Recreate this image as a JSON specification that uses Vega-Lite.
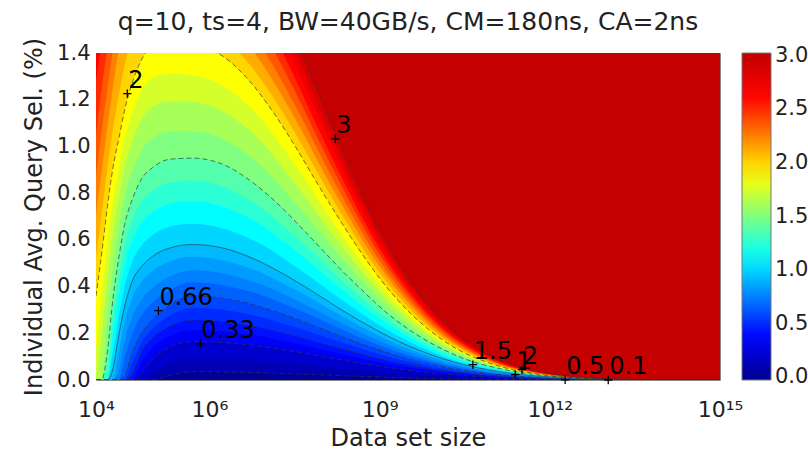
{
  "$schema": "https://vega.github.io/schema/vega-lite/v6.json",
  "autosize": {"type": "none"},
  "padding": {"left": 96, "top": 53, "right": 88, "bottom": 71},
  "width": 624,
  "height": 327,
  "title": {"text": "q=10, ts=4, BW=40GB/s, CM=180ns, CA=2ns", "font": "DejaVu Sans", "fontSize": 25, "fontWeight": "normal", "color": "#222", "offset": 2, "anchor": "middle", "frame": "group"},
  "config": {"font": "DejaVu Sans", "view": {"stroke": "#888", "strokeWidth": 1}},
  "datasets": {
    "bands": [
      {"c":0,"L":4,"s":0},{"c":0,"L":15,"s":0},
      {"c":0.1,"L":4,"s":0},{"c":0.1,"L":5,"s":0},{"c":0.1,"L":5.3,"s":0.02},{"c":0.1,"L":5.7,"s":0.036},{"c":0.1,"L":6.75,"s":0.032},{"c":0.1,"L":7.64,"s":0.025},{"c":0.1,"L":8.4,"s":0.018},{"c":0.1,"L":9.26,"s":0.011},{"c":0.1,"L":10.17,"s":0.005},{"c":0.1,"L":11.32,"s":0.002},{"c":0.1,"L":15,"s":0},
      {"c":0.2,"L":4,"s":0},{"c":0.2,"L":4.8,"s":0},{"c":0.2,"L":5,"s":0.034},{"c":0.2,"L":5.3,"s":0.072},{"c":0.2,"L":5.7,"s":0.092},{"c":0.2,"L":6.75,"s":0.083},{"c":0.2,"L":7.64,"s":0.064},{"c":0.2,"L":8.4,"s":0.046},{"c":0.2,"L":9.26,"s":0.028},{"c":0.2,"L":10.17,"s":0.014},{"c":0.2,"L":11.32,"s":0.005},{"c":0.2,"L":12.12,"s":0.002},{"c":0.2,"L":15,"s":0},
      {"c":0.33,"L":4,"s":0},{"c":0.33,"L":4.65,"s":0},{"c":0.33,"L":4.8,"s":0.03},{"c":0.33,"L":5,"s":0.09},{"c":0.33,"L":5.3,"s":0.14},{"c":0.33,"L":5.7,"s":0.165},{"c":0.33,"L":6.27,"s":0.16},{"c":0.33,"L":6.75,"s":0.149},{"c":0.33,"L":7.23,"s":0.132},{"c":0.33,"L":7.64,"s":0.116},{"c":0.33,"L":8.02,"s":0.099},{"c":0.33,"L":8.4,"s":0.083},{"c":0.33,"L":8.81,"s":0.066},{"c":0.33,"L":9.26,"s":0.05},{"c":0.33,"L":9.82,"s":0.033},{"c":0.33,"L":10.17,"s":0.025},{"c":0.33,"L":10.62,"s":0.017},{"c":0.33,"L":11.32,"s":0.008},{"c":0.33,"L":12.12,"s":0.003},{"c":0.33,"L":15,"s":0},
      {"c":0.42,"L":4,"s":0},{"c":0.42,"L":4.65,"s":0},{"c":0.42,"L":4.8,"s":0.078},{"c":0.42,"L":5,"s":0.138},{"c":0.42,"L":5.3,"s":0.188},{"c":0.42,"L":5.7,"s":0.214},{"c":0.42,"L":6.75,"s":0.193},{"c":0.42,"L":7.64,"s":0.15},{"c":0.42,"L":8.4,"s":0.107},{"c":0.42,"L":9.26,"s":0.064},{"c":0.42,"L":10.17,"s":0.032},{"c":0.42,"L":11.32,"s":0.011},{"c":0.42,"L":12.12,"s":0.004},{"c":0.42,"L":12.66,"s":0.002},{"c":0.42,"L":15,"s":0},
      {"c":0.5,"L":4,"s":0},{"c":0.5,"L":4.5,"s":0},{"c":0.5,"L":4.65,"s":0.03},{"c":0.5,"L":4.8,"s":0.12},{"c":0.5,"L":5,"s":0.18},{"c":0.5,"L":5.3,"s":0.23},{"c":0.5,"L":5.7,"s":0.257},{"c":0.5,"L":6.27,"s":0.249},{"c":0.5,"L":6.75,"s":0.231},{"c":0.5,"L":7.23,"s":0.206},{"c":0.5,"L":7.64,"s":0.18},{"c":0.5,"L":8.02,"s":0.154},{"c":0.5,"L":8.4,"s":0.129},{"c":0.5,"L":8.81,"s":0.103},{"c":0.5,"L":9.26,"s":0.077},{"c":0.5,"L":9.82,"s":0.051},{"c":0.5,"L":10.17,"s":0.039},{"c":0.5,"L":10.62,"s":0.026},{"c":0.5,"L":11.32,"s":0.013},{"c":0.5,"L":11.78,"s":0.008},{"c":0.5,"L":12.12,"s":0.005},{"c":0.5,"L":12.66,"s":0.003},{"c":0.5,"L":13.32,"s":0.001},{"c":0.5,"L":15,"s":0},
      {"c":0.58,"L":4,"s":0},{"c":0.58,"L":4.5,"s":0},{"c":0.58,"L":4.65,"s":0.078},{"c":0.58,"L":4.8,"s":0.16},{"c":0.58,"L":5,"s":0.22},{"c":0.58,"L":5.3,"s":0.275},{"c":0.58,"L":5.7,"s":0.309},{"c":0.58,"L":6.75,"s":0.278},{"c":0.58,"L":7.64,"s":0.216},{"c":0.58,"L":8.4,"s":0.155},{"c":0.58,"L":9.26,"s":0.093},{"c":0.58,"L":10.17,"s":0.046},{"c":0.58,"L":11.32,"s":0.015},{"c":0.58,"L":12.12,"s":0.006},{"c":0.58,"L":12.66,"s":0.003},{"c":0.58,"L":13.32,"s":0.001},{"c":0.58,"L":15,"s":0},
      {"c":0.66,"L":4,"s":0},{"c":0.66,"L":4.4,"s":0},{"c":0.66,"L":4.5,"s":0.015},{"c":0.66,"L":4.65,"s":0.125},{"c":0.66,"L":4.8,"s":0.2},{"c":0.66,"L":5,"s":0.26},{"c":0.66,"L":5.3,"s":0.32},{"c":0.66,"L":5.7,"s":0.36},{"c":0.66,"L":6.27,"s":0.349},{"c":0.66,"L":6.75,"s":0.324},{"c":0.66,"L":7.23,"s":0.288},{"c":0.66,"L":7.64,"s":0.252},{"c":0.66,"L":8.02,"s":0.216},{"c":0.66,"L":8.4,"s":0.18},{"c":0.66,"L":8.81,"s":0.144},{"c":0.66,"L":9.26,"s":0.108},{"c":0.66,"L":9.82,"s":0.072},{"c":0.66,"L":10.17,"s":0.054},{"c":0.66,"L":10.62,"s":0.036},{"c":0.66,"L":11.32,"s":0.018},{"c":0.66,"L":11.78,"s":0.011},{"c":0.66,"L":12.12,"s":0.007},{"c":0.66,"L":12.66,"s":0.004},{"c":0.66,"L":13.32,"s":0.001},{"c":0.66,"L":15,"s":0},
      {"c":0.75,"L":4,"s":0},{"c":0.75,"L":4.4,"s":0},{"c":0.75,"L":4.5,"s":0.093},{"c":0.75,"L":4.65,"s":0.206},{"c":0.75,"L":4.8,"s":0.276},{"c":0.75,"L":5,"s":0.332},{"c":0.75,"L":5.3,"s":0.385},{"c":0.75,"L":5.7,"s":0.418},{"c":0.75,"L":6.75,"s":0.376},{"c":0.75,"L":7.64,"s":0.293},{"c":0.75,"L":8.4,"s":0.209},{"c":0.75,"L":9.26,"s":0.125},{"c":0.75,"L":10.17,"s":0.063},{"c":0.75,"L":11.32,"s":0.021},{"c":0.75,"L":12.12,"s":0.008},{"c":0.75,"L":12.66,"s":0.004},{"c":0.75,"L":13.32,"s":0.002},{"c":0.75,"L":15,"s":0},
      {"c":0.83,"L":4,"s":0},{"c":0.83,"L":4.3,"s":0},{"c":0.83,"L":4.4,"s":0.036},{"c":0.83,"L":4.5,"s":0.163},{"c":0.83,"L":4.65,"s":0.278},{"c":0.83,"L":4.8,"s":0.343},{"c":0.83,"L":5,"s":0.395},{"c":0.83,"L":5.3,"s":0.443},{"c":0.83,"L":5.7,"s":0.47},{"c":0.83,"L":6.75,"s":0.423},{"c":0.83,"L":7.64,"s":0.329},{"c":0.83,"L":8.4,"s":0.235},{"c":0.83,"L":9.26,"s":0.141},{"c":0.83,"L":10.17,"s":0.071},{"c":0.83,"L":11.32,"s":0.024},{"c":0.83,"L":12.12,"s":0.009},{"c":0.83,"L":12.66,"s":0.005},{"c":0.83,"L":13.32,"s":0.002},{"c":0.83,"L":15,"s":0},
      {"c":0.92,"L":4,"s":0},{"c":0.92,"L":4.3,"s":0},{"c":0.92,"L":4.4,"s":0.118},{"c":0.92,"L":4.5,"s":0.241},{"c":0.92,"L":4.65,"s":0.358},{"c":0.92,"L":4.8,"s":0.418},{"c":0.92,"L":5,"s":0.467},{"c":0.92,"L":5.3,"s":0.507},{"c":0.92,"L":5.7,"s":0.528},{"c":0.92,"L":6.75,"s":0.475},{"c":0.92,"L":7.64,"s":0.37},{"c":0.92,"L":8.4,"s":0.264},{"c":0.92,"L":9.26,"s":0.158},{"c":0.92,"L":10.17,"s":0.079},{"c":0.92,"L":11.32,"s":0.026},{"c":0.92,"L":12.12,"s":0.011},{"c":0.92,"L":12.66,"s":0.005},{"c":0.92,"L":13.32,"s":0.002},{"c":0.92,"L":15,"s":0},
      {"c":1,"L":4,"s":0},{"c":1,"L":4.2,"s":0},{"c":1,"L":4.3,"s":0.05},{"c":1,"L":4.4,"s":0.19},{"c":1,"L":4.5,"s":0.31},{"c":1,"L":4.65,"s":0.43},{"c":1,"L":4.8,"s":0.485},{"c":1,"L":5,"s":0.53},{"c":1,"L":5.3,"s":0.565},{"c":1,"L":5.7,"s":0.58},{"c":1,"L":6.27,"s":0.563},{"c":1,"L":6.75,"s":0.522},{"c":1,"L":7.23,"s":0.464},{"c":1,"L":7.64,"s":0.406},{"c":1,"L":8.02,"s":0.348},{"c":1,"L":8.4,"s":0.29},{"c":1,"L":8.81,"s":0.232},{"c":1,"L":9.26,"s":0.174},{"c":1,"L":9.82,"s":0.116},{"c":1,"L":10.17,"s":0.087},{"c":1,"L":10.62,"s":0.058},{"c":1,"L":11.32,"s":0.029},{"c":1,"L":11.78,"s":0.017},{"c":1,"L":12.12,"s":0.012},{"c":1,"L":12.66,"s":0.006},{"c":1,"L":13.32,"s":0.002},{"c":1,"L":14.23,"s":0.001},{"c":1,"L":15,"s":0},
      {"c":1.12,"L":4,"s":0},{"c":1.12,"L":4.2,"s":0},{"c":1.12,"L":4.3,"s":0.122},{"c":1.12,"L":4.4,"s":0.269},{"c":1.12,"L":4.5,"s":0.394},{"c":1.12,"L":4.65,"s":0.514},{"c":1.12,"L":4.8,"s":0.575},{"c":1.12,"L":5,"s":0.621},{"c":1.12,"L":5.3,"s":0.656},{"c":1.12,"L":5.7,"s":0.669},{"c":1.12,"L":6.74,"s":0.602},{"c":1.12,"L":7.62,"s":0.468},{"c":1.12,"L":8.38,"s":0.335},{"c":1.12,"L":9.23,"s":0.201},{"c":1.12,"L":10.13,"s":0.1},{"c":1.12,"L":11.27,"s":0.033},{"c":1.12,"L":12.07,"s":0.013},{"c":1.12,"L":12.6,"s":0.007},{"c":1.12,"L":13.26,"s":0.003},{"c":1.12,"L":15,"s":0},
      {"c":1.25,"L":4,"s":0},{"c":1.25,"L":4.2,"s":0},{"c":1.25,"L":4.3,"s":0.2},{"c":1.25,"L":4.4,"s":0.355},{"c":1.25,"L":4.5,"s":0.485},{"c":1.25,"L":4.65,"s":0.605},{"c":1.25,"L":4.8,"s":0.673},{"c":1.25,"L":5,"s":0.72},{"c":1.25,"L":5.3,"s":0.755},{"c":1.25,"L":5.7,"s":0.765},{"c":1.25,"L":6.73,"s":0.689},{"c":1.25,"L":7.61,"s":0.536},{"c":1.25,"L":8.35,"s":0.383},{"c":1.25,"L":9.2,"s":0.23},{"c":1.25,"L":10.09,"s":0.115},{"c":1.25,"L":11.23,"s":0.038},{"c":1.25,"L":12.01,"s":0.015},{"c":1.25,"L":12.54,"s":0.008},{"c":1.25,"L":13.19,"s":0.003},{"c":1.25,"L":15,"s":0},
      {"c":1.37,"L":4,"s":0},{"c":1.37,"L":4.1,"s":0},{"c":1.37,"L":4.2,"s":0.046},{"c":1.37,"L":4.3,"s":0.272},{"c":1.37,"L":4.4,"s":0.434},{"c":1.37,"L":4.5,"s":0.569},{"c":1.37,"L":4.65,"s":0.689},{"c":1.37,"L":4.8,"s":0.763},{"c":1.37,"L":5,"s":0.811},{"c":1.37,"L":5.3,"s":0.846},{"c":1.37,"L":5.7,"s":0.854},{"c":1.37,"L":6.72,"s":0.769},{"c":1.37,"L":7.59,"s":0.598},{"c":1.37,"L":8.33,"s":0.427},{"c":1.37,"L":9.17,"s":0.256},{"c":1.37,"L":10.06,"s":0.128},{"c":1.37,"L":11.18,"s":0.043},{"c":1.37,"L":11.96,"s":0.017},{"c":1.37,"L":12.49,"s":0.009},{"c":1.37,"L":13.13,"s":0.003},{"c":1.37,"L":15,"s":0},
      {"c":1.5,"L":4,"s":0},{"c":1.5,"L":4.1,"s":0},{"c":1.5,"L":4.2,"s":0.12},{"c":1.5,"L":4.3,"s":0.35},{"c":1.5,"L":4.4,"s":0.52},{"c":1.5,"L":4.5,"s":0.66},{"c":1.5,"L":4.65,"s":0.78},{"c":1.5,"L":4.8,"s":0.86},{"c":1.5,"L":5,"s":0.91},{"c":1.5,"L":5.3,"s":0.945},{"c":1.5,"L":5.7,"s":0.95},{"c":1.5,"L":6.25,"s":0.922},{"c":1.5,"L":6.71,"s":0.855},{"c":1.5,"L":7.18,"s":0.76},{"c":1.5,"L":7.57,"s":0.665},{"c":1.5,"L":7.94,"s":0.57},{"c":1.5,"L":8.31,"s":0.475},{"c":1.5,"L":8.71,"s":0.38},{"c":1.5,"L":9.14,"s":0.285},{"c":1.5,"L":9.68,"s":0.19},{"c":1.5,"L":10.02,"s":0.143},{"c":1.5,"L":10.45,"s":0.095},{"c":1.5,"L":11.13,"s":0.048},{"c":1.5,"L":11.58,"s":0.029},{"c":1.5,"L":11.9,"s":0.019},{"c":1.5,"L":12.43,"s":0.01},{"c":1.5,"L":13.06,"s":0.004},{"c":1.5,"L":13.94,"s":0.001},{"c":1.5,"L":15,"s":0},
      {"c":1.62,"L":4,"s":0},{"c":1.62,"L":4.1,"s":0},{"c":1.62,"L":4.2,"s":0.269},{"c":1.62,"L":4.3,"s":0.484},{"c":1.62,"L":4.4,"s":0.642},{"c":1.62,"L":4.5,"s":0.778},{"c":1.62,"L":4.65,"s":0.9},{"c":1.62,"L":4.8,"s":0.982},{"c":1.62,"L":5,"s":1.035},{"c":1.62,"L":5.3,"s":1.064},{"c":1.62,"L":5.7,"s":1.065},{"c":1.62,"L":6.71,"s":0.959},{"c":1.62,"L":7.56,"s":0.746},{"c":1.62,"L":8.29,"s":0.533},{"c":1.62,"L":9.11,"s":0.32},{"c":1.62,"L":9.98,"s":0.16},{"c":1.62,"L":11.09,"s":0.053},{"c":1.62,"L":11.85,"s":0.021},{"c":1.62,"L":12.37,"s":0.011},{"c":1.62,"L":13,"s":0.004},{"c":1.62,"L":13.87,"s":0.001},{"c":1.62,"L":15,"s":0},
      {"c":1.75,"L":4,"s":0},{"c":1.75,"L":4.1,"s":0.185},{"c":1.75,"L":4.2,"s":0.43},{"c":1.75,"L":4.3,"s":0.63},{"c":1.75,"L":4.4,"s":0.775},{"c":1.75,"L":4.5,"s":0.905},{"c":1.75,"L":4.65,"s":1.03},{"c":1.75,"L":4.8,"s":1.115},{"c":1.75,"L":5,"s":1.17},{"c":1.75,"L":5.3,"s":1.193},{"c":1.75,"L":5.7,"s":1.19},{"c":1.75,"L":6.7,"s":1.071},{"c":1.75,"L":7.54,"s":0.833},{"c":1.75,"L":8.26,"s":0.595},{"c":1.75,"L":9.08,"s":0.357},{"c":1.75,"L":9.94,"s":0.179},{"c":1.75,"L":11.04,"s":0.06},{"c":1.75,"L":11.8,"s":0.024},{"c":1.75,"L":12.31,"s":0.012},{"c":1.75,"L":12.93,"s":0.005},{"c":1.75,"L":13.8,"s":0.001},{"c":1.75,"L":15,"s":0},
      {"c":1.87,"L":4,"s":0.126},{"c":1.87,"L":4.1,"s":0.355},{"c":1.87,"L":4.2,"s":0.579},{"c":1.87,"L":4.3,"s":0.764},{"c":1.87,"L":4.4,"s":0.897},{"c":1.87,"L":4.5,"s":1.023},{"c":1.87,"L":4.65,"s":1.15},{"c":1.87,"L":4.8,"s":1.237},{"c":1.87,"L":5,"s":1.295},{"c":1.87,"L":5.3,"s":1.311},{"c":1.87,"L":5.7,"s":1.305},{"c":1.87,"L":6.69,"s":1.175},{"c":1.87,"L":7.53,"s":0.914},{"c":1.87,"L":8.24,"s":0.653},{"c":1.87,"L":9.05,"s":0.392},{"c":1.87,"L":9.91,"s":0.196},{"c":1.87,"L":10.99,"s":0.065},{"c":1.87,"L":11.74,"s":0.026},{"c":1.87,"L":12.25,"s":0.013},{"c":1.87,"L":12.87,"s":0.005},{"c":1.87,"L":13.73,"s":0.001},{"c":1.87,"L":15,"s":0},
      {"c":2,"L":4,"s":0.36},{"c":2,"L":4.1,"s":0.54},{"c":2,"L":4.2,"s":0.74},{"c":2,"L":4.3,"s":0.91},{"c":2,"L":4.4,"s":1.03},{"c":2,"L":4.5,"s":1.15},{"c":2,"L":4.65,"s":1.28},{"c":2,"L":4.8,"s":1.37},{"c":2,"L":5,"s":1.43},{"c":2,"L":5.3,"s":1.44},{"c":2,"L":5.7,"s":1.43},{"c":2,"L":6.23,"s":1.387},{"c":2,"L":6.68,"s":1.287},{"c":2,"L":7.13,"s":1.144},{"c":2,"L":7.51,"s":1.001},{"c":2,"L":7.86,"s":0.858},{"c":2,"L":8.22,"s":0.715},{"c":2,"L":8.6,"s":0.572},{"c":2,"L":9.02,"s":0.429},{"c":2,"L":9.54,"s":0.286},{"c":2,"L":9.87,"s":0.215},{"c":2,"L":10.29,"s":0.143},{"c":2,"L":10.94,"s":0.072},{"c":2,"L":11.37,"s":0.043},{"c":2,"L":11.69,"s":0.029},{"c":2,"L":12.19,"s":0.014},{"c":2,"L":12.81,"s":0.006},{"c":2,"L":13.65,"s":0.001},{"c":2,"L":15,"s":0},
      {"c":2.12,"L":4,"s":0.526},{"c":2.12,"L":4.1,"s":0.71},{"c":2.12,"L":4.2,"s":0.903},{"c":2.12,"L":4.3,"s":1.076},{"c":2.12,"L":4.4,"s":1.215},{"c":2.12,"L":4.5,"s":1.342},{"c":2.12,"L":4.65,"s":1.453},{"c":2.12,"L":5.7,"s":1.51},{"c":2.12,"L":6.23,"s":1.465},{"c":2.12,"L":6.68,"s":1.359},{"c":2.12,"L":7.13,"s":1.208},{"c":2.12,"L":7.51,"s":1.057},{"c":2.12,"L":8.22,"s":0.755},{"c":2.12,"L":9.02,"s":0.453},{"c":2.12,"L":9.87,"s":0.227},{"c":2.12,"L":10.94,"s":0.076},{"c":2.12,"L":11.69,"s":0.03},{"c":2.12,"L":12.19,"s":0.015},{"c":2.12,"L":12.81,"s":0.006},{"c":2.12,"L":13.65,"s":0.002},{"c":2.12,"L":15,"s":0},
      {"c":2.25,"L":4,"s":0.705},{"c":2.25,"L":4.1,"s":0.895},{"c":2.25,"L":4.2,"s":1.08},{"c":2.25,"L":4.3,"s":1.255},{"c":2.25,"L":4.4,"s":1.415},{"c":2.25,"L":4.5,"s":1.55},{"c":2.25,"L":6.23,"s":1.55},{"c":2.25,"L":6.68,"s":1.438},{"c":2.25,"L":7.13,"s":1.278},{"c":2.25,"L":7.51,"s":1.119},{"c":2.25,"L":8.22,"s":0.799},{"c":2.25,"L":9.02,"s":0.479},{"c":2.25,"L":9.87,"s":0.24},{"c":2.25,"L":10.94,"s":0.08},{"c":2.25,"L":11.69,"s":0.032},{"c":2.25,"L":12.19,"s":0.016},{"c":2.25,"L":12.81,"s":0.006},{"c":2.25,"L":13.65,"s":0.002},{"c":2.25,"L":15,"s":0},
      {"c":2.37,"L":4,"s":0.871},{"c":2.37,"L":4.1,"s":1.065},{"c":2.37,"L":4.2,"s":1.243},{"c":2.37,"L":4.3,"s":1.421},{"c":2.37,"L":4.4,"s":1.6},{"c":2.37,"L":6.23,"s":1.628},{"c":2.37,"L":6.68,"s":1.51},{"c":2.37,"L":7.13,"s":1.342},{"c":2.37,"L":7.51,"s":1.175},{"c":2.37,"L":8.22,"s":0.839},{"c":2.37,"L":9.02,"s":0.503},{"c":2.37,"L":9.87,"s":0.252},{"c":2.37,"L":10.94,"s":0.084},{"c":2.37,"L":11.69,"s":0.034},{"c":2.37,"L":12.19,"s":0.017},{"c":2.37,"L":12.81,"s":0.007},{"c":2.37,"L":13.65,"s":0.002},{"c":2.37,"L":15,"s":0},
      {"c":2.5,"L":4,"s":1.05},{"c":2.5,"L":4.1,"s":1.25},{"c":2.5,"L":4.2,"s":1.42},{"c":2.5,"L":4.3,"s":1.6},{"c":2.5,"L":6.68,"s":1.589},{"c":2.5,"L":7.13,"s":1.412},{"c":2.5,"L":7.51,"s":1.236},{"c":2.5,"L":7.86,"s":1.059},{"c":2.5,"L":8.22,"s":0.883},{"c":2.5,"L":9.02,"s":0.53},{"c":2.5,"L":9.87,"s":0.265},{"c":2.5,"L":10.94,"s":0.088},{"c":2.5,"L":11.69,"s":0.035},{"c":2.5,"L":12.19,"s":0.018},{"c":2.5,"L":12.81,"s":0.007},{"c":2.5,"L":13.65,"s":0.002},{"c":2.5,"L":15,"s":0},
      {"c":2.62,"L":4,"s":1.278},{"c":2.62,"L":4.1,"s":1.454},{"c":2.62,"L":4.2,"s":1.655},{"c":2.62,"L":6.68,"s":1.661},{"c":2.62,"L":7.13,"s":1.476},{"c":2.62,"L":7.51,"s":1.292},{"c":2.62,"L":7.86,"s":1.107},{"c":2.62,"L":8.22,"s":0.923},{"c":2.62,"L":9.02,"s":0.554},{"c":2.62,"L":9.87,"s":0.277},{"c":2.62,"L":10.94,"s":0.092},{"c":2.62,"L":11.69,"s":0.037},{"c":2.62,"L":12.19,"s":0.018},{"c":2.62,"L":12.81,"s":0.007},{"c":2.62,"L":13.65,"s":0.002},{"c":2.62,"L":15,"s":0},
      {"c":2.75,"L":4,"s":1.525},{"c":2.75,"L":4.1,"s":1.675},{"c":2.75,"L":7.13,"s":1.546},{"c":2.75,"L":7.51,"s":1.353},{"c":2.75,"L":7.86,"s":1.16},{"c":2.75,"L":8.22,"s":0.967},{"c":2.75,"L":8.6,"s":0.773},{"c":2.75,"L":9.02,"s":0.58},{"c":2.75,"L":9.87,"s":0.29},{"c":2.75,"L":10.94,"s":0.097},{"c":2.75,"L":11.69,"s":0.039},{"c":2.75,"L":12.19,"s":0.019},{"c":2.75,"L":12.81,"s":0.008},{"c":2.75,"L":13.65,"s":0.002},{"c":2.75,"L":15,"s":0},
      {"c":2.87,"L":4,"s":1.753},{"c":2.87,"L":7.13,"s":1.61},{"c":2.87,"L":7.51,"s":1.409},{"c":2.87,"L":7.86,"s":1.208},{"c":2.87,"L":8.22,"s":1.007},{"c":2.87,"L":8.6,"s":0.805},{"c":2.87,"L":9.02,"s":0.604},{"c":2.87,"L":9.87,"s":0.302},{"c":2.87,"L":10.94,"s":0.101},{"c":2.87,"L":11.69,"s":0.04},{"c":2.87,"L":12.19,"s":0.02},{"c":2.87,"L":12.81,"s":0.008},{"c":2.87,"L":13.65,"s":0.002},{"c":2.87,"L":15,"s":0},
      {"c":3,"L":4,"s":2},{"c":3,"L":6.68,"s":1.89},{"c":3,"L":7.13,"s":1.68},{"c":3,"L":7.51,"s":1.47},{"c":3,"L":7.86,"s":1.26},{"c":3,"L":8.22,"s":1.05},{"c":3,"L":8.6,"s":0.84},{"c":3,"L":9.02,"s":0.63},{"c":3,"L":9.54,"s":0.42},{"c":3,"L":9.87,"s":0.315},{"c":3,"L":10.29,"s":0.21},{"c":3,"L":10.94,"s":0.105},{"c":3,"L":11.37,"s":0.063},{"c":3,"L":11.69,"s":0.042},{"c":3,"L":12.19,"s":0.021},{"c":3,"L":12.81,"s":0.008},{"c":3,"L":13.65,"s":0.002},{"c":3,"L":15,"s":0}
    ],
    "labels": [
      {"t":"2","L":4.552,"s":1.226},
      {"t":"3","L":8.217,"s":1.032},
      {"t":"0.66","L":5.1,"s":0.297},
      {"t":"0.33","L":5.838,"s":0.155},
      {"t":"1.5","L":10.643,"s":0.0655},
      {"t":"1","L":11.39,"s":0.023},
      {"t":"2","L":11.51,"s":0.044},
      {"t":"0.5","L":12.27,"s":0.001},
      {"t":"0.1","L":13.03,"s":0}
    ]
  },
  "encoding": {
    "x": {"field": "L", "type": "quantitative", "scale": {"domain": [4, 15], "nice": false, "zero": false},
      "axis": {"values": [4, 6, 9, 12, 15], "labelExpr": "datum.value == 4 ? '10⁴' : datum.value == 6 ? '10⁶' : datum.value == 9 ? '10⁹' : datum.value == 12 ? '10¹²' : '10¹⁵'", "grid": false, "ticks": false, "tickSize": 0, "domain": false, "labelFlush": false, "labelFont": "DejaVu Sans", "labelFontSize": 22, "labelColor": "#222", "labelPadding": 19, "title": "Data set size", "titleFont": "DejaVu Sans", "titleFontSize": 24, "titleFontWeight": "normal", "titleColor": "#222", "titlePadding": 6}},
    "y": {"field": "s", "type": "quantitative", "scale": {"domain": [0, 1.4], "nice": false, "zero": false},
      "axis": {"values": [0, 0.2, 0.4, 0.6, 0.8, 1, 1.2, 1.4], "format": ".1f", "grid": false, "ticks": false, "tickSize": 0, "domain": false, "labelFlush": false, "labelFont": "DejaVu Sans", "labelFontSize": 21, "labelColor": "#222", "labelPadding": 6, "title": "Individual Avg. Query Sel. (%)", "titleFont": "DejaVu Sans", "titleFontSize": 24, "titleFontWeight": "normal", "titleColor": "#222", "titlePadding": 10}}
  },
  "layer": [
    {
      "data": {"name": "bands"},
      "mark": {"type": "area", "interpolate": "monotone", "clip": true, "stroke": null},
      "encoding": {
        "y": {"field": "s", "type": "quantitative", "stack": null},
        "y2": {"datum": 1.4},
        "detail": {"field": "c", "type": "quantitative"},
        "color": {"field": "c", "type": "quantitative",
          "scale": {"type": "linear", "domain": [-0.025, 0.375, 1.125, 1.875, 2.625, 3.025], "range": ["#00008F", "#0000FF", "#00FFFF", "#FFFF00", "#FF0000", "#C00000"], "interpolate": "rgb"},
          "legend": {"title": null, "values": [0, 0.5, 1, 1.5, 2, 2.5, 3], "format": ".1f", "orient": "right", "offset": 22, "padding": 0, "gradientLength": 327, "gradientThickness": 29, "labelFont": "DejaVu Sans", "labelFontSize": 21, "labelColor": "#222", "labelOffset": 4, "labelBaseline": "middle", "gradientStrokeColor": "#777", "gradientStrokeWidth": 1}}
      }
    },
    {
      "data": {"name": "bands"},
      "transform": [{"filter": {"field": "c", "oneOf": [0.1, 0.33, 0.5, 0.66, 1, 1.5, 2, 3]}}],
      "mark": {"type": "line", "interpolate": "monotone", "clip": true, "color": "#333", "strokeWidth": 0.9, "opacity": 0.75},
      "encoding": {
        "detail": {"field": "c", "type": "quantitative"},
        "strokeDash": {"condition": {"test": "datum.c === 1", "value": [1, 0]}, "value": [5, 3]}
      }
    },
    {
      "data": {"name": "labels"},
      "mark": {"type": "point", "shape": "M-1,0L1,0M0,-1L0,1", "size": 70, "filled": false, "stroke": "#000", "strokeWidth": 1.3, "opacity": 1},
      "encoding": {}
    },
    {
      "data": {"name": "labels"},
      "mark": {"type": "text", "align": "left", "baseline": "alphabetic", "dx": 1, "dy": -6, "font": "DejaVu Sans", "fontSize": 24, "color": "#000"},
      "encoding": {"text": {"field": "t"}}
    }
  ]
}
